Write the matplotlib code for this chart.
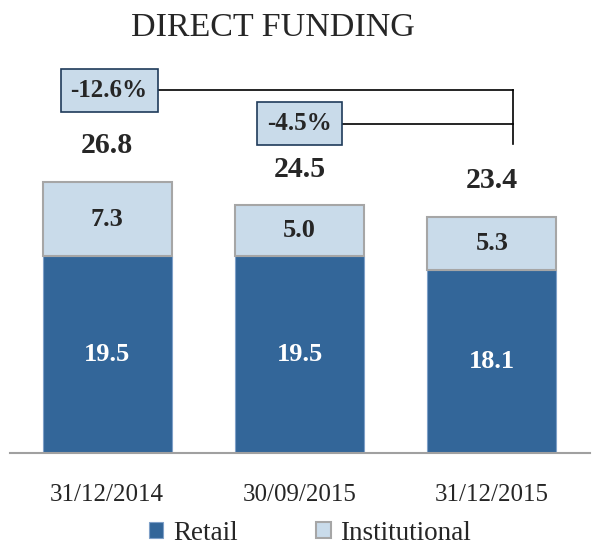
import matplotlib
matplotlib.use("Agg")
import matplotlib.pyplot as plt
import numpy as np

# data
dates = ["31/12/2014", "30/09/2015", "31/12/2015"]
retail = [19.5, 19.5, 18.1]
institutional = [7.3, 5.0, 5.3]
totals = [26.8, 24.5, 23.4]
changes = ["-12.6%", "-4.5%"]

plt.rcParams['font.family'] = ['Liberation Serif', 'DejaVu Serif']

c_retail = "#336699"
c_inst = "#c9dbea"
c_txt = "#262626"

fig = plt.figure(figsize=(5.94, 5.52), dpi=100)
ax = fig.add_axes([10/594, 1 - 453/552, 580/594, 393/552])

x = np.arange(len(dates))
w = 0.67
ax.bar(x, retail, w, color=c_retail, edgecolor="#7fa0c8", linewidth=0.8, label="Retail")
ax.bar(x, institutional, w, bottom=retail, color=c_inst, edgecolor="#a6a6a6",
       linewidth=1.5, label="Institutional")

for i in range(len(x)):
    ax.text(x[i], retail[i] / 2, f"{retail[i]:.1f}", ha="center", va="center",
            color="white", fontsize=19, fontweight="bold")
    ax.text(x[i], retail[i] + institutional[i] / 2, f"{institutional[i]:.1f}",
            ha="center", va="center", color=c_txt, fontsize=19, fontweight="bold")
    ax.text(x[i], totals[i] + 3.6, f"{totals[i]:.1f}", ha="center", va="center",
            color=c_txt, fontsize=21.5, fontweight="bold")

ax.set_xlim(-0.505, 2.51)
ax.set_ylim(0, 38.9)

# change brackets
end_x = x[2] + 0.11
box = dict(boxstyle="square,pad=0.4", fc=c_inst, ec="#1f3b5a", lw=1.2)
y1, y2 = 35.9, 32.6
ax.plot([x[0], end_x], [y1, y1], color="black", lw=1.2)
ax.plot([x[1], end_x], [y2, y2], color="black", lw=1.2)
ax.plot([end_x, end_x], [y1, 30.6], color="black", lw=1.2)
ax.text(x[0] + 0.01, y1, changes[0], ha="center", va="center", fontsize=18,
        fontweight="bold", color=c_txt, bbox=box)
ax.text(x[1] + 0.0, y2, changes[1], ha="center", va="center", fontsize=18,
        fontweight="bold", color=c_txt, bbox=box)

for s in ["top", "right", "left"]:
    ax.spines[s].set_visible(False)
ax.spines["bottom"].set_color("#a0a0a0")
ax.spines["bottom"].set_linewidth(1.5)
ax.set_yticks([])
ax.set_xticks(x)
ax.set_xticklabels(dates, fontsize=18, color=c_txt)
ax.tick_params(axis="x", length=0, pad=22)

fig.text(273/594, 1 - 28/552, "DIRECT FUNDING", ha="center", va="center",
         fontsize=24.5, color=c_txt)

ax.legend(loc="center", bbox_to_anchor=(0.517, 1 - (533 - 60) / 393),
          bbox_transform=ax.transAxes, ncol=2, frameon=False, fontsize=19.5,
          handlelength=0.55, handleheight=0.55, columnspacing=2.9, handletextpad=0.35,
          labelcolor=c_txt)

fig.savefig("out.png", dpi=100)
